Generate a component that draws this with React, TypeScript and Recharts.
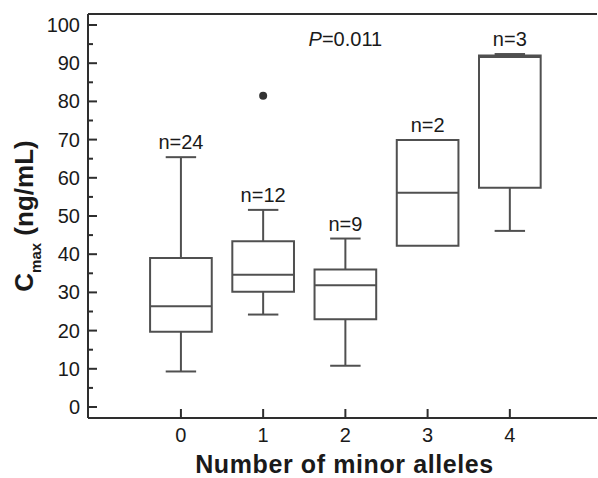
import React from 'react';
import { ComposedChart, XAxis, YAxis, Scatter, ReferenceArea, ReferenceLine } from 'recharts';

// minor-allele groups and their box-plot summaries (ng/mL)
const groups = [0, 1, 2, 3, 4];
const nLabels = ['n=24', 'n=12', 'n=9', 'n=2', 'n=3'];
const whiskerLow = [9.3, 24.2, 10.8, 42.2, 46.1];
const q1 = [19.7, 30.2, 23.0, 42.2, 57.4];
const median = [26.4, 34.6, 31.9, 56.1, 91.6];
const q3 = [39.0, 43.4, 36.0, 69.9, 92.0];
const whiskerHigh = [65.4, 51.6, 44.1, 69.9, 92.4];

const outliers = [{ x: 1, y: 81.5 }];

const pLabel = { x: 2, y: 94.5, prefix: 'P', value: '=0.011' };

const yTicks = [0, 5, 10, 15, 20, 25, 30, 35, 40, 45, 50, 55, 60, 65, 70, 75, 80, 85, 90, 95, 100];
const xTicks = [0, 1, 2, 3, 4];

const AXIS = '#2e2e2e';
const BOX = '#505050';
const TEXT = '#1a1a1a';
const FONT = '"Liberation Sans", Arial, sans-serif';
const BOX_HALF = 0.375;
const CAP_HALF = 0.185;

const labelPoints = groups.map((g, i) => ({ x: g, y: whiskerHigh[i], label: nLabels[i] }));

function YTick(props: any) {
  const { x, y, payload } = props;
  const major = payload.value % 10 === 0;
  return (
    <g>
      <line x1={x} x2={x + (major ? 9 : 5)} y1={y} y2={y} stroke={AXIS} strokeWidth={2} />
      {major && (
        <text x={x - 8} y={y} dy={7} textAnchor="end" fontSize={20} fontFamily={FONT} fill={TEXT}>
          {payload.value}
        </text>
      )}
    </g>
  );
}

function XTick(props: any) {
  const { x, y, payload } = props;
  return (
    <g>
      <line x1={x} x2={x} y1={y} y2={y - 9} stroke={AXIS} strokeWidth={2} />
      <text x={x} y={y + 24} textAnchor="middle" fontSize={20} fontFamily={FONT} fill={TEXT}>
        {payload.value}
      </text>
    </g>
  );
}

function YLabel(props: any) {
  const { x, y, height } = props.viewBox;
  const cx = x + 33;
  const cy = y + height / 2;
  return (
    <text
      x={cx}
      y={cy}
      transform={`rotate(-90, ${cx}, ${cy})`}
      textAnchor="middle"
      fontSize={26}
      fontWeight="bold"
      fontFamily={FONT}
      fill={TEXT}
    >
      <tspan>C</tspan>
      <tspan fontSize={15} dy={8}>max</tspan>
      <tspan dy={-8}> (ng/mL)</tspan>
    </text>
  );
}

function XLabel(props: any) {
  const { x, y, width } = props.viewBox;
  return (
    <text
      x={x + width / 2 + 2}
      y={y + 55}
      textAnchor="middle"
      fontSize={25}
      fontWeight="bold"
      fontFamily={FONT}
      letterSpacing={0.6}
      fill={TEXT}
    >
      Number of minor alleles
    </text>
  );
}

export default function App() {
  return (
    <div style={{ position: 'absolute', left: 0, top: 0, background: '#fff' }}>
      <ComposedChart width={598} height={478} margin={{ top: 13, right: 1, bottom: 0, left: 0 }}>
        <XAxis
          dataKey="x"
          type="number"
          domain={[-1.13, 5.06]}
          allowDataOverflow
          ticks={xTicks}
          tickSize={0}
          tickMargin={0}
          tick={<XTick />}
          height={60}
          axisLine={{ stroke: AXIS, strokeWidth: 2 }}
          label={<XLabel />}
        />
        <XAxis
          xAxisId="top"
          orientation="top"
          dataKey="x"
          type="number"
          domain={[-1.13, 5.06]}
          allowDataOverflow
          tick={false}
          tickLine={false}
          height={1}
          axisLine={{ stroke: AXIS, strokeWidth: 2 }}
        />
        <YAxis
          dataKey="y"
          type="number"
          domain={[-2.88, 102.88]}
          allowDataOverflow
          ticks={yTicks}
          interval={0}
          tickSize={0}
          tickMargin={0}
          tick={<YTick />}
          width={88}
          axisLine={{ stroke: AXIS, strokeWidth: 2 }}
          label={<YLabel />}
        />

        {groups.map((g, i) => (
          <ReferenceArea
            key={`box-${g}`}
            x1={g - BOX_HALF}
            x2={g + BOX_HALF}
            y1={q1[i]}
            y2={q3[i]}
            fill="#fff"
            fillOpacity={1}
            stroke={BOX}
            strokeWidth={2}
          />
        ))}
        {groups.map((g, i) =>
          whiskerHigh[i] > q3[i] ? (
            <ReferenceLine
              key={`wh-${g}`}
              segment={[{ x: g, y: q3[i] }, { x: g, y: whiskerHigh[i] }]}
              stroke={BOX}
              strokeWidth={2}
            />
          ) : null
        )}
        {groups.map((g, i) =>
          whiskerHigh[i] > q3[i] ? (
            <ReferenceLine
              key={`cap-h-${g}`}
              segment={[{ x: g - CAP_HALF, y: whiskerHigh[i] }, { x: g + CAP_HALF, y: whiskerHigh[i] }]}
              stroke={BOX}
              strokeWidth={2}
            />
          ) : null
        )}
        {groups.map((g, i) =>
          whiskerLow[i] < q1[i] ? (
            <ReferenceLine
              key={`wl-${g}`}
              segment={[{ x: g, y: whiskerLow[i] }, { x: g, y: q1[i] }]}
              stroke={BOX}
              strokeWidth={2}
            />
          ) : null
        )}
        {groups.map((g, i) =>
          whiskerLow[i] < q1[i] ? (
            <ReferenceLine
              key={`cap-l-${g}`}
              segment={[{ x: g - CAP_HALF, y: whiskerLow[i] }, { x: g + CAP_HALF, y: whiskerLow[i] }]}
              stroke={BOX}
              strokeWidth={2}
            />
          ) : null
        )}
        {groups.map((g, i) => (
          <ReferenceLine
            key={`med-${g}`}
            segment={[{ x: g - BOX_HALF, y: median[i] }, { x: g + BOX_HALF, y: median[i] }]}
            stroke={BOX}
            strokeWidth={2}
          />
        ))}

        <Scatter
          data={outliers}
          isAnimationActive={false}
          shape={(p: any) => <circle cx={p.cx} cy={p.cy} r={4} fill="#333" />}
        />
        <Scatter
          data={labelPoints}
          isAnimationActive={false}
          shape={(p: any) => (
            <text x={p.cx} y={p.cy - 8} textAnchor="middle" fontSize={20} fontFamily={FONT} fill={TEXT}>
              {p.payload.label}
            </text>
          )}
        />
        <Scatter
          data={[pLabel]}
          isAnimationActive={false}
          shape={(p: any) => (
            <text x={p.cx} y={p.cy} textAnchor="middle" fontSize={20} fontFamily={FONT} fill={TEXT}>
              <tspan fontStyle="italic">{p.payload.prefix}</tspan>
              <tspan>{p.payload.value}</tspan>
            </text>
          )}
        />
      </ComposedChart>
    </div>
  );
}
